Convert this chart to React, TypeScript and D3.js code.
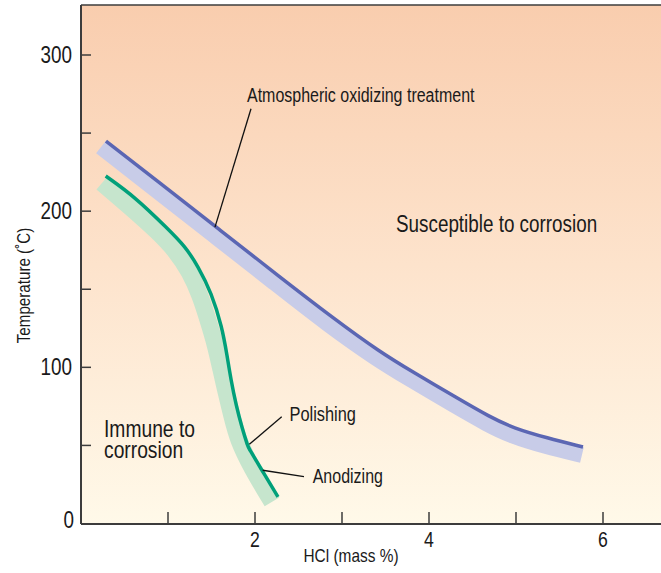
import React from "react";
import * as d3 from "d3";

// ---- Data (HCl mass %, temperature °C) ----
const atmosphericLine: [number, number][] = [
  [0.287, 244.9], [0.908, 218.0], [1.598, 187.9], [2.287, 157.8], [2.897, 131.6],
  [3.437, 109.8], [3.816, 97.0], [4.322, 80.4], [4.701, 68.2], [4.966, 61.2],
  [5.356, 54.8], [5.77, 49.0],
];
const atmosphericBand: [number, number][] = [
  [0.23, 241.1], [0.851, 214.2], [1.54, 184.1], [2.23, 154.0], [2.839, 127.4],
  [3.391, 105.7], [3.782, 92.5], [4.287, 75.9], [4.678, 63.4], [4.943, 56.3],
  [5.333, 49.6], [5.758, 43.9],
];
const polishAnodizeLine: [number, number][] = [
  [0.284, 222.5], [0.621, 209.1], [1.0, 188.6], [1.195, 177.6], [1.345, 164.8],
  [1.5, 147.6], [1.621, 125.8], [1.678, 107.9], [1.724, 91.9], [1.782, 75.9],
  [1.851, 61.2], [1.92, 49.0], [1.925, 48.6], [2.057, 36.2], [2.264, 17.0],
];
const polishAnodizeBand: [number, number][] = [
  [0.241, 218.0], [0.563, 202.7], [0.885, 186.7], [1.092, 174.5], [1.253, 161.0],
  [1.368, 146.3], [1.46, 130.3], [1.546, 114.3], [1.609, 98.3], [1.667, 84.2],
  [1.736, 68.2], [1.805, 53.5], [1.954, 36.2], [2.195, 13.8],
];
const xMajorTicks = [2, 4, 6];
const xMinorTicks = [1, 2, 3, 4, 5, 6];
const yLabelTicks = [0, 100, 200, 300];
const yMinorTicks = [50, 100, 150, 200, 250, 300];

// annotation leaders [label end, curve end] in data units
const atmosphericLeader: [number, number][] = [[1.954, 265.6], [1.54, 189.8]];
const polishingLeader: [number, number][] = [[2.307, 68.4], [1.935, 50.7]];
const anodizingLeader: [number, number][] = [[2.563, 30.0], [2.088, 34.1]];

const W = 661;
const H = 573;
const FONT = "'Liberation Sans', Arial, sans-serif";
const NARROW = 0.82;

function NText(props: {
  x: number;
  y: number;
  size: number;
  anchor?: "start" | "middle" | "end";
  rotate?: number;
  dy?: string;
  children: React.ReactNode;
}) {
  const { x, y, size, anchor = "start", rotate = 0, dy, children } = props;
  return (
    <text
      transform={`translate(${x},${y}) rotate(${rotate}) scale(${NARROW},1)`}
      fontSize={size}
      textAnchor={anchor}
      dy={dy}
      fill="#1a1a1a"
    >
      {children}
    </text>
  );
}

export default function App() {
  const left = 81;
  const right = W;
  const top = 5;
  const bottom = 524;
  const x = d3.scaleLinear().domain([0, 6]).range([left, 603]);
  const y = d3.scaleLinear().domain([0, 300]).range([523.5, 55]);

  const smoothB = d3
    .line<[number, number]>()
    .x((d) => x(d[0]))
    .y((d) => y(d[1]))
    .curve(d3.curveBasis);
  const straight = d3
    .line<[number, number]>()
    .x((d) => x(d[0]))
    .y((d) => y(d[1]));

  const axisColor = "#3c3c3c";

  return (
    <svg
      width={W}
      height={H}
      style={{ position: "absolute", left: 0, top: 0, display: "block" }}
      fontFamily={FONT}
    >
      <defs>
        <linearGradient id="bg" x1="0" y1="0" x2="0" y2="1">
          <stop offset="0%" stopColor="#f9cdae" />
          <stop offset="50%" stopColor="#fde3cc" />
          <stop offset="100%" stopColor="#fff9e9" />
        </linearGradient>
      </defs>
      <rect x={0} y={0} width={W} height={H} fill="#ffffff" />
      <rect x={left} y={top} width={right - left} height={bottom - top} fill="url(#bg)" />

      {/* bands */}
      <path d={smoothB(atmosphericBand) || ""} fill="none" stroke="#c8cce8" strokeWidth={16} strokeLinecap="butt" />
      <path d={smoothB(polishAnodizeBand) || ""} fill="none" stroke="#c6e5cd" strokeWidth={17} strokeLinecap="butt" />
      {/* lines */}
      <path d={smoothB(polishAnodizeLine) || ""} fill="none" stroke="#00a07a" strokeWidth={3.5} strokeLinejoin="round" />
      <path d={smoothB(atmosphericLine) || ""} fill="none" stroke="#5b66b3" strokeWidth={3.5} strokeLinejoin="round" />

      {/* leaders */}
      <path d={straight(atmosphericLeader) || ""} stroke="#111" strokeWidth={1.3} fill="none" />
      <path d={straight(polishingLeader) || ""} stroke="#111" strokeWidth={1.3} fill="none" />
      <path d={straight(anodizingLeader) || ""} stroke="#111" strokeWidth={1.3} fill="none" />

      {/* frame */}
      <line x1={left} x2={right} y1={top} y2={top} stroke={axisColor} strokeWidth={1.5} />
      <line x1={left} x2={left} y1={top} y2={bottom} stroke={axisColor} strokeWidth={2} />
      <line x1={left} x2={right} y1={bottom} y2={bottom} stroke={axisColor} strokeWidth={2} />

      {/* ticks */}
      {yMinorTicks.map((t) => (
        <line key={"yt" + t} x1={left} x2={left + 10} y1={y(t)} y2={y(t)} stroke={axisColor} strokeWidth={1.5} />
      ))}
      {xMinorTicks.map((t) => (
        <line key={"xt" + t} x1={x(t)} x2={x(t)} y1={bottom} y2={bottom - 12} stroke={axisColor} strokeWidth={1.5} />
      ))}
      {yLabelTicks.map((t) => (
        <NText key={"yl" + t} x={t === 0 ? 74 : 72} y={y(t) - (t === 0 ? 4 : 0)} dy="0.35em" anchor="end" size={23}>
          {t}
        </NText>
      ))}
      {xMajorTicks.map((t) => (
        <NText key={"xl" + t} x={x(t)} y={547} anchor="middle" size={21.5}>
          {t}
        </NText>
      ))}

      {/* axis titles */}
      <NText x={351} y={562} anchor="middle" size={18.8}>
        HCl (mass %)
      </NText>
      <NText x={30} y={285.5} rotate={-90} anchor="middle" size={18.5}>
        Temperature (˚C)
      </NText>

      {/* annotations */}
      <NText x={247} y={102.3} size={19.5}>Atmospheric oxidizing treatment</NText>
      <NText x={396} y={231.5} size={23}>Susceptible to corrosion</NText>
      <NText x={104} y={436.7} size={23.5}>Immune to</NText>
      <NText x={104} y={458.3} size={23.5}>corrosion</NText>
      <NText x={289.5} y={421} size={20}>Polishing</NText>
      <NText x={312.7} y={483.3} size={19.5}>Anodizing</NText>
    </svg>
  );
}
